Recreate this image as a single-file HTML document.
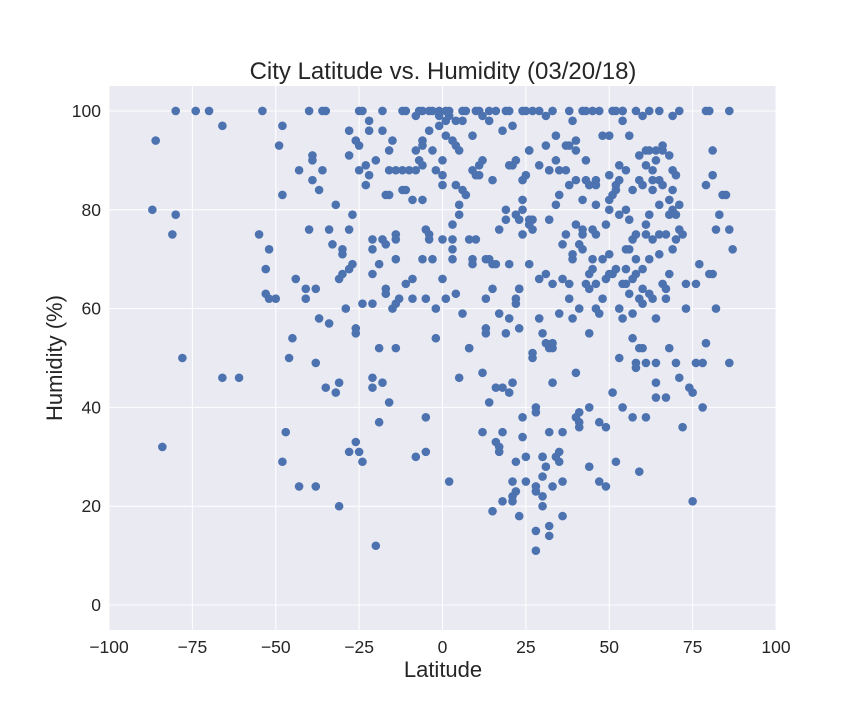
<!DOCTYPE html>
<html><head><meta charset="utf-8"><style>
body{margin:0;background:#fff;font-family:"Liberation Sans",Arial,sans-serif;}
svg text{font-family:"Liberation Sans",Arial,sans-serif;fill:#262626;}
</style></head><body>
<svg id="chart" width="864" height="720" xmlns="http://www.w3.org/2000/svg">
<rect x="0" y="0" width="864" height="720" fill="#fff"/>
<rect x="109" y="86" width="667" height="544" fill="#eaeaf2"/>
<g id="grid"></g><g id="ticks"></g><g id="points"></g>
<text x="443" y="79" font-size="24" text-anchor="middle">City Latitude vs. Humidity (03/20/18)</text>
<text x="443" y="677" font-size="22" text-anchor="middle">Latitude</text>
<text x="62" y="358" font-size="22" text-anchor="middle" transform="rotate(-90 62 358)">Humidity (%)</text>
</svg>
<script>
const xTicks=[-100,-75,-50,-25,0,25,50,75,100];
const yTicks=[0,20,40,60,80,100];
const lats=[-87,-86,-84,-81,-80,-80,-78,-74,-70,-66,-66,-61,-55,-54,-53,-53,-52,-52,-50,-49,-48,-48,-48,-47,-46,-45,-44,-43,-43,-41,-41,-40,-40,-39,-39,-39,-38,-38,-38,-37,-37,-36,-36,-35,-35,-34,-34,-33,-32,-32,-31,-31,-31,-30,-30,-30,-29,-28,-28,-28,-28,-28,-27,-27,-26,-26,-26,-26,-25,-25,-25,-25,-24,-24,-24,-23,-23,-22,-22,-22,-21,-21,-21,-21,-21,-21,-20,-20,-19,-19,-19,-18,-18,-18,-18,-17,-17,-17,-17,-16,-16,-16,-16,-15,-15,-14,-14,-14,-14,-14,-14,-13,-12,-12,-12,-11,-11,-11,-10,-9,-9,-9,-8,-8,-8,-8,-7,-7,-6,-6,-6,-6,-6,-6,-5,-5,-5,-5,-4,-4,-4,-4,-3,-3,-3,-2,-2,-2,-1,-1,-1,0,0,0,0,0,1,1,1,1,2,2,2,3,3,3,3,3,4,4,4,4,5,5,5,5,6,6,6,6,7,7,8,8,8,9,9,9,9,10,10,10,11,11,11,12,12,12,12,13,13,13,13,14,14,14,14,15,15,15,15,16,16,16,16,17,17,17,17,18,18,18,18,19,19,19,19,20,20,20,20,20,21,21,21,21,21,21,22,22,22,22,22,22,23,23,23,23,23,24,24,24,24,24,24,24,25,25,25,25,26,26,26,26,26,27,27,27,27,27,28,28,28,28,28,28,29,29,29,29,30,30,30,30,30,30,31,31,31,31,31,32,32,32,32,32,32,32,33,33,33,33,33,33,34,34,34,34,35,35,35,35,35,36,36,36,36,36,37,37,37,38,38,38,38,38,39,39,39,39,40,40,40,40,40,40,41,41,41,41,41,42,42,42,42,42,43,43,43,43,44,44,44,44,44,44,45,45,45,45,46,46,46,46,46,46,47,47,47,47,48,48,48,49,49,49,49,50,50,50,50,50,50,51,51,51,51,52,52,52,52,52,53,53,53,53,53,54,54,54,54,54,54,55,55,55,55,55,56,56,56,56,57,57,57,57,57,57,58,58,58,58,58,58,59,59,59,59,59,60,60,60,60,60,60,61,61,61,61,61,61,62,62,62,62,62,63,63,63,63,63,64,64,64,64,64,64,65,65,65,65,65,66,66,66,66,67,67,67,67,68,68,68,68,68,69,69,69,69,69,70,70,70,70,71,71,71,71,72,72,73,73,74,75,75,76,76,77,78,78,79,79,79,80,80,81,81,81,82,82,83,84,85,86,86,86,87];
const hums=[80,94,32,75,79,100,50,100,100,97,46,46,75,100,68,63,72,62,62,93,83,97,29,35,50,54,66,24,88,62,64,76,100,90,86,91,49,24,64,84,58,100,88,100,44,57,76,73,81,43,45,20,66,72,67,71,60,91,31,68,96,76,69,79,55,56,33,94,88,93,100,31,29,61,100,89,85,98,87,96,46,61,67,72,74,44,90,12,37,69,52,45,74,96,100,83,63,73,64,41,83,88,92,60,94,70,61,75,52,74,88,62,84,100,88,65,84,100,88,82,66,62,30,88,92,99,100,90,93,82,70,89,100,94,31,38,62,76,75,74,100,96,100,92,70,54,88,60,100,99,97,87,90,85,74,66,62,95,98,100,100,99,25,70,72,77,94,74,85,93,98,63,81,92,79,46,84,59,100,98,100,83,52,52,74,70,69,95,88,100,74,87,87,89,100,47,35,90,99,55,56,62,70,41,70,98,100,69,86,64,19,33,44,69,100,59,31,32,76,35,96,44,21,100,78,80,55,43,58,69,89,100,45,25,22,21,89,97,90,29,23,62,79,61,64,56,64,78,18,100,38,34,75,80,86,82,30,25,87,100,92,92,78,77,69,100,78,50,51,76,24,23,11,40,15,39,89,100,58,66,30,22,20,26,30,55,93,99,53,67,28,16,14,35,88,88,78,52,52,53,65,24,45,100,95,90,81,30,29,31,83,88,59,18,66,73,25,35,93,88,75,93,62,65,100,85,71,70,58,98,94,86,92,38,47,77,37,39,73,60,36,82,76,100,75,72,100,65,86,90,85,55,28,64,67,40,100,68,76,70,81,86,85,75,65,60,25,37,100,59,95,70,62,24,36,77,66,87,71,80,82,95,67,100,43,67,83,100,29,84,68,85,50,89,60,79,86,58,100,100,98,40,65,68,65,80,72,88,78,63,95,72,74,38,84,59,54,66,49,70,67,100,48,75,27,62,52,86,91,99,64,52,61,68,85,77,89,92,49,38,75,92,100,63,79,70,84,88,62,74,86,45,58,42,49,90,92,75,81,71,86,100,92,93,65,85,75,62,64,42,52,91,67,82,79,84,80,99,88,72,79,87,74,49,76,81,100,46,36,75,65,60,44,21,43,65,49,69,49,40,85,100,53,67,100,92,87,67,60,76,79,83,83,100,49,76,72];
const NS='http://www.w3.org/2000/svg';
const X0=109,X1=776,Y0=630,Y1=86;
function xs(v){return X0+(v-(-100))/200*(X1-X0);}
function ys(v){return Y0-(v-(-5.05))/110.1*(Y0-Y1);}
const grid=document.getElementById('grid'),ticks=document.getElementById('ticks'),pts=document.getElementById('points');
xTicks.forEach(t=>{
  const l=document.createElementNS(NS,'line');
  
  
  l.setAttribute('x1',xs(t));l.setAttribute('x2',xs(t));l.setAttribute('y1',Y1);l.setAttribute('y2',Y0);
  l.setAttribute('stroke','#fff');l.setAttribute('stroke-width','1');grid.appendChild(l);
  const tx=document.createElementNS(NS,'text');
  
  
  tx.setAttribute('x',xs(t));tx.setAttribute('y',653);tx.setAttribute('font-size','17.5');tx.setAttribute('text-anchor','middle');
  tx.textContent=(t<0?'\u2212'+(-t):t);ticks.appendChild(tx);
});
yTicks.forEach(t=>{
  const l=document.createElementNS(NS,'line');
  
  
  l.setAttribute('x1',X0);l.setAttribute('x2',X1);l.setAttribute('y1',ys(t));l.setAttribute('y2',ys(t));
  l.setAttribute('stroke','#fff');l.setAttribute('stroke-width','1');grid.appendChild(l);
  const tx=document.createElementNS(NS,'text');
  
  
  tx.setAttribute('x',101);tx.setAttribute('y',ys(t)+6);tx.setAttribute('font-size','17.5');tx.setAttribute('text-anchor','end');
  tx.textContent=t;ticks.appendChild(tx);
});
for(let i=0;i<lats.length;i++){
  const c=document.createElementNS(NS,'circle');
  
  
  c.setAttribute('cx',xs(lats[i]));c.setAttribute('cy',ys(hums[i]));c.setAttribute('r','4.3');
  c.setAttribute('fill','#4c72b0');pts.appendChild(c);
}
</script>
</body></html>
